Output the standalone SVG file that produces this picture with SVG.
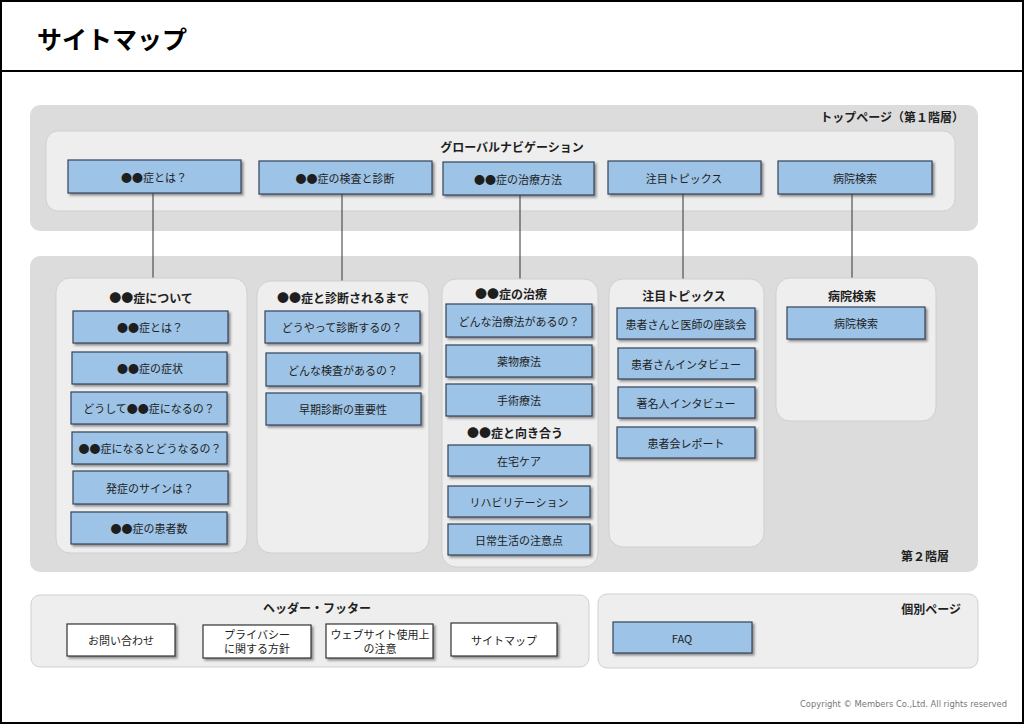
<svg xmlns="http://www.w3.org/2000/svg" width="1024" height="724" viewBox="0 0 1024 724">
<defs>
<filter id="sh" x="-10%" y="-20%" width="130%" height="160%">
<feDropShadow dx="2" dy="2" stdDeviation="1.2" flood-color="#404040" flood-opacity="0.55"/>
</filter>
</defs>
<style>
text{font-family:"Noto Sans CJK JP","Noto Sans",sans-serif;fill:#1e1e1e}
.t{font-size:11px;text-anchor:middle;dominant-baseline:central}
.h{font-size:12px;font-weight:bold;text-anchor:middle;dominant-baseline:central}
.hr{font-size:12px;font-weight:bold;text-anchor:end;dominant-baseline:central}
.b{fill:#9dc3e6;stroke:#34445a;stroke-width:1.2;filter:url(#sh)}
.w{fill:#ffffff;stroke:#333333;stroke-width:1.2;filter:url(#sh)}
.band{fill:#dcdcdc}
.pn{fill:#eeeeee;stroke:#cfcfcf;stroke-width:1}
.ln{stroke:#333333;stroke-width:1;fill:none}
</style>
<rect x="0" y="0" width="1024" height="724" fill="#ffffff"/>
<rect x="1" y="1" width="1022" height="722" fill="none" stroke="#000" stroke-width="2"/>
<line x1="0" y1="71" x2="1024" y2="71" stroke="#000" stroke-width="2"/>
<text x="37" y="38" style="font-size:25px;font-weight:bold;dominant-baseline:central;fill:#000">サイトマップ</text>

<g id="band1">
<rect class="band" x="30" y="105" width="948" height="126" rx="10"/>
<text class="hr" x="964" y="116">トップページ（第１階層）</text>
</g>
<g id="gnav">
<rect class="pn" x="46" y="131" width="909" height="80" rx="12"/>
<text class="h" x="512" y="146">グローバルナビゲーション</text>
</g>

<g id="band2">
<rect class="band" x="30" y="256" width="948" height="316" rx="10"/>
<text class="hr" x="949" y="555">第２階層</text>
</g>

<g id="connectors">
<line class="ln" x1="153" y1="193" x2="153" y2="278"/>
<line class="ln" x1="342" y1="194" x2="342" y2="281"/>
<line class="ln" x1="520" y1="195" x2="520" y2="279"/>
<line class="ln" x1="683" y1="194" x2="683" y2="279"/>
<line class="ln" x1="852" y1="194" x2="852" y2="278"/>
</g>

<g id="nav1"><rect class="b" x="68" y="160" width="173" height="33"/><text class="t" x="154" y="177">●●症とは？</text></g>
<g id="nav2"><rect class="b" x="259" y="161" width="173" height="33"/><text class="t" x="345" y="178">●●症の検査と診断</text></g>
<g id="nav3"><rect class="b" x="443" y="162" width="151" height="33"/><text class="t" x="518" y="179">●●症の治療方法</text></g>
<g id="nav4"><rect class="b" x="608" y="161" width="153" height="33"/><text class="t" x="684" y="178">注目トピックス</text></g>
<g id="nav5"><rect class="b" x="778" y="161" width="154" height="33"/><text class="t" x="855" y="178">病院検索</text></g>

<g id="panelA">
<rect class="pn" x="56" y="278" width="191" height="275" rx="14"/>
<text class="h" x="151" y="297">●●症について</text>
</g>
<g id="a1"><rect class="b" x="73" y="311" width="155" height="32"/><text class="t" x="150" y="327">●●症とは？</text></g>
<g id="a2"><rect class="b" x="72" y="352" width="155" height="32"/><text class="t" x="150" y="368">●●症の症状</text></g>
<g id="a3"><rect class="b" x="71" y="392" width="156" height="32"/><text class="t" x="149" y="408">どうして●●症になるの？</text></g>
<g id="a4"><rect class="b" x="72" y="432" width="155" height="32"/><text class="t" x="150" y="448">●●症になるとどうなるの？</text></g>
<g id="a5"><rect class="b" x="73" y="471" width="155" height="33"/><text class="t" x="150" y="488">発症のサインは？</text></g>
<g id="a6"><rect class="b" x="71" y="512" width="156" height="32"/><text class="t" x="149" y="528">●●症の患者数</text></g>

<g id="panelB">
<rect class="pn" x="257" y="281" width="172" height="272" rx="14"/>
<text class="h" x="343" y="297">●●症と診断されるまで</text>
</g>
<g id="b1"><rect class="b" x="265" y="311" width="155" height="32"/><text class="t" x="342" y="327">どうやって診断するの？</text></g>
<g id="b2"><rect class="b" x="266" y="353" width="154" height="33"/><text class="t" x="343" y="370">どんな検査があるの？</text></g>
<g id="b3"><rect class="b" x="266" y="393" width="155" height="32"/><text class="t" x="343" y="409">早期診断の重要性</text></g>

<g id="panelC">
<rect class="pn" x="442" y="279" width="156" height="288" rx="14"/>
<text class="h" x="511" y="293">●●症の治療</text>
<text class="h" x="515" y="432">●●症と向き合う</text>
</g>
<g id="c1"><rect class="b" x="446" y="304" width="146" height="33"/><text class="t" x="519" y="321">どんな治療法があるの？</text></g>
<g id="c2"><rect class="b" x="446" y="345" width="146" height="32"/><text class="t" x="519" y="361">薬物療法</text></g>
<g id="c3"><rect class="b" x="446" y="384" width="146" height="32"/><text class="t" x="519" y="400">手術療法</text></g>
<g id="c4"><rect class="b" x="448" y="445" width="142" height="31"/><text class="t" x="519" y="461">在宅ケア</text></g>
<g id="c5"><rect class="b" x="448" y="486" width="142" height="31"/><text class="t" x="519" y="502">リハビリテーション</text></g>
<g id="c6"><rect class="b" x="448" y="524" width="142" height="31"/><text class="t" x="519" y="540">日常生活の注意点</text></g>

<g id="panelD">
<rect class="pn" x="609" y="279" width="155" height="268" rx="14"/>
<text class="h" x="684" y="295">注目トピックス</text>
</g>
<g id="d1"><rect class="b" x="617" y="308" width="138" height="31"/><text class="t" x="686" y="324">患者さんと医師の座談会</text></g>
<g id="d2"><rect class="b" x="618" y="348" width="137" height="31"/><text class="t" x="686" y="364">患者さんインタビュー</text></g>
<g id="d3"><rect class="b" x="618" y="387" width="137" height="31"/><text class="t" x="686" y="403">著名人インタビュー</text></g>
<g id="d4"><rect class="b" x="617" y="427" width="138" height="31"/><text class="t" x="686" y="443">患者会レポート</text></g>

<g id="panelE">
<rect class="pn" x="776" y="278" width="160" height="143" rx="14"/>
<text class="h" x="852" y="295">病院検索</text>
</g>
<g id="e1"><rect class="b" x="787" y="307" width="138" height="32"/><text class="t" x="856" y="323">病院検索</text></g>

<g id="panelHF">
<rect class="pn" x="31" y="595" width="558" height="72" rx="9"/>
<text class="h" x="317" y="607">ヘッダー・フッター</text>
</g>
<g id="hf1"><rect class="w" x="67" y="624" width="108" height="32"/><text class="t" x="121" y="640">お問い合わせ</text></g>
<g id="hf2"><rect class="w" x="203" y="625" width="108" height="33"/><text class="t" x="257" y="634">プライバシー</text><text class="t" x="257" y="648">に関する方針</text></g>
<g id="hf3"><rect class="w" x="326" y="624" width="107" height="34"/><text class="t" x="380" y="634">ウェブサイト使用上</text><text class="t" x="380" y="648">の注意</text></g>
<g id="hf4"><rect class="w" x="451" y="623" width="106" height="33"/><text class="t" x="504" y="640">サイトマップ</text></g>

<g id="panelInd">
<rect class="pn" x="598" y="594" width="380" height="74" rx="9"/>
<text class="hr" x="961" y="608">個別ページ</text>
</g>
<g id="faq"><rect class="b" x="613" y="622" width="139" height="31"/><text class="t" x="682" y="638">FAQ</text></g>

<text x="1007" y="707" style="font-family:'DejaVu Sans',sans-serif;font-size:8px;fill:#777;text-anchor:end" textLength="207" lengthAdjust="spacingAndGlyphs">Copyright © Members Co.,Ltd. All rights reserved</text>
</svg>
